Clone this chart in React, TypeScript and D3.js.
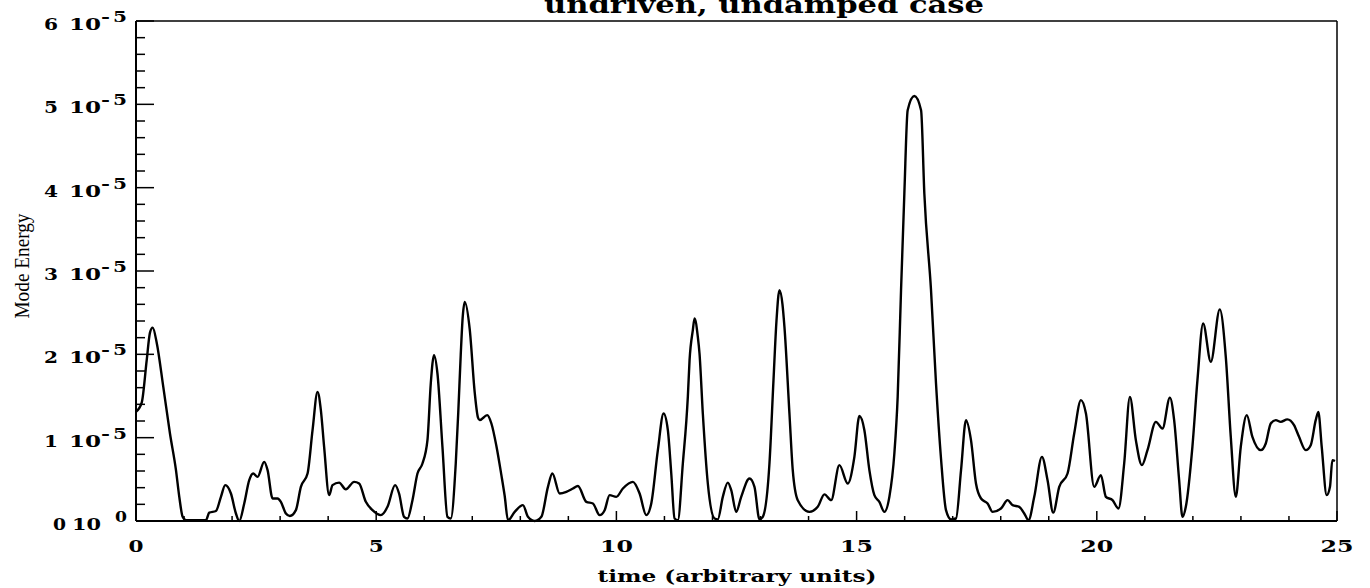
import React from "react";
import * as d3 from "d3";

// time (arbitrary units)
const times = [
  0, 0.119, 0.223, 0.291, 0.347, 0.431, 0.568, 0.707, 0.832, 0.901, 0.971, 1.04, 1.456, 1.525, 1.664, 1.768,
  1.857, 1.976, 2.08, 2.149, 2.253, 2.357, 2.44, 2.531, 2.668, 2.739, 2.843, 2.947, 3.016, 3.12, 3.203, 3.328,
  3.432, 3.571, 3.675, 3.779, 3.848, 3.916, 4.02, 4.091, 4.228, 4.368, 4.541, 4.644, 4.784, 4.923, 5.096, 5.235,
  5.393, 5.476, 5.58, 5.651, 5.755, 5.859, 5.963, 6.067, 6.136, 6.204, 6.275, 6.379, 6.483, 6.552, 6.656, 6.708,
  6.76, 6.801, 6.843, 6.947, 7.051, 7.119, 7.155, 7.311, 7.398, 7.502, 7.606, 7.675, 7.743, 7.883, 8.055, 8.159,
  8.299, 8.438, 8.575, 8.667, 8.819, 8.958, 9.095, 9.199, 9.374, 9.511, 9.651, 9.755, 9.859, 9.998, 10.135, 10.343,
  10.483, 10.622, 10.726, 10.863, 10.982, 11.071, 11.142, 11.211, 11.279, 11.383, 11.487, 11.523, 11.591, 11.627,
  11.695, 11.73, 11.799, 11.903, 12.043, 12.111, 12.215, 12.319, 12.39, 12.494, 12.598, 12.77, 12.874, 12.978,
  13.047, 13.186, 13.27, 13.332, 13.394, 13.457, 13.498, 13.602, 13.671, 13.775, 14.018, 14.191, 14.33, 14.47,
  14.642, 14.815, 14.954, 15.058, 15.162, 15.266, 15.37, 15.474, 15.578, 15.682, 15.786, 15.855, 15.925, 15.994,
  16.063, 16.202, 16.342, 16.41, 16.549, 16.653, 16.757, 16.861, 16.965, 17.069, 17.174, 17.277, 17.381, 17.485,
  17.59, 17.727, 17.831, 18.005, 18.143, 18.247, 18.386, 18.49, 18.579, 18.698, 18.858, 18.975, 19.093, 19.218,
  19.391, 19.53, 19.67, 19.774, 19.946, 20.085, 20.189, 20.327, 20.451, 20.57, 20.689, 20.813, 20.938, 21.055,
  21.23, 21.367, 21.521, 21.61, 21.714, 21.783, 21.853, 21.99, 22.095, 22.213, 22.373, 22.56, 22.685, 22.789,
  22.893, 22.997, 23.122, 23.239, 23.413, 23.517, 23.621, 23.725, 23.829, 23.966, 24.106, 24.21, 24.349, 24.453,
  24.557, 24.611, 24.682, 24.786, 24.854, 24.903, 24.958,
];

// mode energy in units of 1e-5
const energy = [
  1.31, 1.42, 1.93, 2.26, 2.32, 2.14, 1.61, 1.05, 0.61, 0.29, 0.05, 0.01, 0.01, 0.1, 0.12, 0.29,
  0.43, 0.33, 0.09, 0.0, 0.21, 0.49, 0.57, 0.53, 0.71, 0.61, 0.27, 0.27, 0.23, 0.09, 0.06, 0.13,
  0.41, 0.57, 1.09, 1.55, 1.33, 0.89, 0.31, 0.43, 0.46, 0.38, 0.47, 0.45, 0.23, 0.13, 0.07, 0.17,
  0.43, 0.33, 0.05, 0.03, 0.25, 0.57, 0.69, 0.97, 1.65, 1.99, 1.77, 0.89, 0.05, 0.03, 0.69, 1.3,
  2.0, 2.45, 2.63, 2.3, 1.54, 1.24, 1.21, 1.27, 1.17, 0.9, 0.55, 0.3, 0.01, 0.11, 0.19, 0.05,
  0.0, 0.05, 0.41, 0.57, 0.33, 0.35, 0.39, 0.42, 0.23, 0.21, 0.07, 0.13, 0.31, 0.29, 0.39, 0.47,
  0.33, 0.07, 0.21, 0.85, 1.29, 1.09, 0.57, 0.03, 0.01, 0.69, 1.49, 1.93, 2.29, 2.43,
  2.21, 2.01, 1.29, 0.45, 0.03, 0.02, 0.29, 0.46, 0.37, 0.11, 0.29, 0.51, 0.41, 0.02,
  0.05, 0.69, 1.69, 2.4, 2.77, 2.6, 2.33, 1.29, 0.61, 0.25, 0.11, 0.17, 0.32, 0.25,
  0.67, 0.45, 0.77, 1.26, 1.09, 0.61, 0.31, 0.23, 0.11, 0.29, 0.81, 1.49, 2.77, 3.93,
  4.93, 5.1, 4.93, 3.93, 2.77, 1.65, 0.75, 0.13, 0.02, 0.03, 0.61, 1.21, 0.97, 0.45,
  0.27, 0.21, 0.11, 0.15, 0.25, 0.19, 0.17, 0.09, 0.01, 0.29, 0.77, 0.49, 0.1, 0.41,
  0.57, 1.05, 1.45, 1.29, 0.41, 0.55, 0.29, 0.25, 0.15, 0.69, 1.49, 0.97, 0.67, 0.85,
  1.19, 1.11, 1.48, 1.21, 0.49, 0.05, 0.17, 0.89, 1.69, 2.37, 1.91, 2.54, 1.97, 1.01,
  0.29, 0.89, 1.27, 1.01, 0.85, 0.93, 1.17, 1.21, 1.19, 1.22, 1.15, 1.01, 0.85, 0.91,
  1.21, 1.31, 0.89, 0.31, 0.41, 0.73, 0.72,
];

const xTickValues = [0, 5, 10, 15, 20, 25];
const xTickLabels = ["0", "5", "10", "15", "20", "25"];
const yTickMantissas = [0, 1, 2, 3, 4, 5, 6];
const yTickExponents = ["0", "-5", "-5", "-5", "-5", "-5", "-5"];

const titleText = "undriven, undamped case";
const xTitle = "time (arbitrary units)";
const yTitle = "Mode Energy";

const W = 1370;
const H = 588;
const L = 136, R = 1337, T = 21, B = 521;

export default function App() {
  const x = d3.scaleLinear().domain([0, 25]).range([L, R]);
  const y = d3.scaleLinear().domain([0, 6]).range([B, T]);

  const pts = times.map((t, i) => [t, energy[i]] as [number, number]);
  const line = d3
    .line<[number, number]>()
    .x((d) => x(d[0]))
    .y((d) => y(d[1]))
    .curve(d3.curveMonotoneX);

  const xMinor = d3.range(0, 26, 1);
  const yMinor = d3.range(0, 30.001, 1).map((v) => v / 5);

  const boldSerif = "'DejaVu Serif', serif";
  const txt = { fontFamily: boldSerif, fontWeight: "bold" as const, fill: "#000" };

  return (
    <svg
      width={W}
      height={H}
      style={{ position: "absolute", left: 0, top: 0, background: "#fff" }}
    >
      <rect x={0} y={0} width={W} height={H} fill="#fff" />
      {/* title */}
      <text
        x={764}
        y={13}
        textAnchor="middle"
        {...txt}
        fontSize={24}
        textLength={440}
        lengthAdjust="spacingAndGlyphs"
      >
        {titleText}
      </text>

      {/* frame */}
      <line x1={L} y1={T} x2={R} y2={T} stroke="#000" strokeWidth={1.5} />
      <line x1={R} y1={T} x2={R} y2={B} stroke="#000" strokeWidth={1.5} />
      <line x1={L} y1={T} x2={L} y2={B} stroke="#000" strokeWidth={2} />
      <line x1={L} y1={B} x2={R} y2={B} stroke="#000" strokeWidth={2} />

      {/* y ticks */}
      {yMinor.map((v, i) => (
        <line
          key={"ym" + i}
          x1={L}
          x2={L + (i % 5 === 0 ? 18 : 9)}
          y1={y(v)}
          y2={y(v)}
          stroke="#000"
          strokeWidth={1.5}
        />
      ))}
      {/* x ticks */}
      {xMinor.map((v, i) => (
        <line
          key={"xm" + i}
          x1={x(v)}
          x2={x(v)}
          y1={B}
          y2={B - (i % 5 === 0 ? 10 : 5)}
          stroke="#000"
          strokeWidth={1.5}
        />
      ))}

      {/* y tick labels */}
      {yTickMantissas.map((m, i) => (
        <g key={"yl" + i}>
          <text
            x={m === 0 ? 53 : 44}
            y={y(m) + 9}
            {...txt}
            fontSize={16}
            textLength={m === 0 ? 13 : 14}
            lengthAdjust="spacingAndGlyphs"
          >
            {String(m)}
          </text>
          <text
            x={m === 0 ? 72 : 69}
            y={y(m) + 9}
            {...txt}
            fontSize={16}
            textLength={m === 0 ? 29 : 32}
            lengthAdjust="spacingAndGlyphs"
          >
            {"10"}
          </text>
          {yTickExponents[i] === "-5" ? (
            <>
              <text x={101} y={y(m) + 1} {...txt} fontSize={14} textLength={9} lengthAdjust="spacingAndGlyphs">
                {"-"}
              </text>
              <text x={113} y={y(m) + 1} {...txt} fontSize={14} textLength={14} lengthAdjust="spacingAndGlyphs">
                {"5"}
              </text>
            </>
          ) : (
            <text x={115} y={y(m) + 1} {...txt} fontSize={14} textLength={12} lengthAdjust="spacingAndGlyphs">
              {yTickExponents[i]}
            </text>
          )}
        </g>
      ))}

      {/* x tick labels */}
      {xTickValues.map((v, i) => {
        const w = xTickLabels[i].length > 1 ? 33 : 15;
        return (
          <text
            key={"xl" + i}
            x={x(v) - w / 2}
            y={552}
            {...txt}
            fontSize={17}
            textLength={w}
            lengthAdjust="spacingAndGlyphs"
          >
            {xTickLabels[i]}
          </text>
        );
      })}

      {/* axis titles */}
      <text
        x={737}
        y={582}
        textAnchor="middle"
        {...txt}
        fontSize={17}
        textLength={279}
        lengthAdjust="spacingAndGlyphs"
      >
        {xTitle}
      </text>
      <text
        transform={`translate(29, 266) rotate(-90)`}
        textAnchor="middle"
        fontFamily="'Liberation Serif', serif"
        fontSize={22}
        textLength={105}
        lengthAdjust="spacingAndGlyphs"
        fill="#000"
      >
        {yTitle}
      </text>

      {/* data */}
      <path d={line(pts) || ""} fill="none" stroke="#000" strokeWidth={2.4} strokeLinejoin="round" />
    </svg>
  );
}
